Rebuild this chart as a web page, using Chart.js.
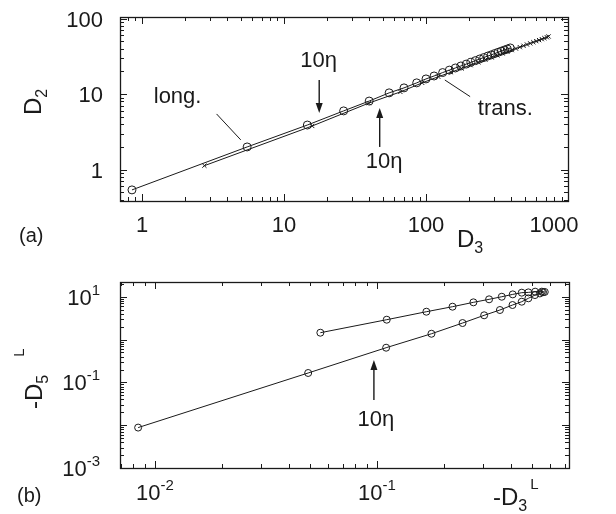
<!DOCTYPE html>
<html>
<head>
<meta charset="utf-8">
<script src="https://cdn.jsdelivr.net/npm/chart.js@4.4.0/dist/chart.umd.min.js"></script>
<style>
  html, body { margin: 0; padding: 0; background: #fff; }
  #wrap { position: relative; width: 616px; height: 514px; }
  .box { position: absolute; left: 0; width: 616px; height: 257px; }
</style>
</head>
<body>
<div id="wrap">
  <div class="box" style="top:0"><canvas id="chartA" width="616" height="257"></canvas></div>
  <div class="box" style="top:257px"><canvas id="chartB" width="616" height="257"></canvas></div>
</div>
<script>
// (a) D2 against D3, longitudinal (circles) and transverse (crosses)
const longD3 = [0.85, 5.5, 14.6, 26.3, 39.8, 55, 70, 86, 100, 114, 131, 146, 161, 176, 192, 207, 223, 239, 255, 272, 288, 305, 322, 339, 357, 374, 392];
const longD2 = [0.54, 2.0, 3.9, 6.0, 8.1, 10.4, 12.1, 14.1, 15.9, 17.4, 19.3, 20.8, 22.2, 23.6, 25.0, 26.4, 27.8, 29.2, 30.5, 31.9, 33.1, 34.5, 35.8, 37.1, 38.4, 39.6, 40.9];
const transD3 = [2.75, 15.8, 39.5, 66, 94, 122, 150, 178, 206, 234, 262, 290, 318, 346, 374, 402, 430, 458, 486, 514, 542, 570, 598, 626, 654, 682, 710, 730];
const transD2 = [1.13, 3.79, 7.6, 10.7, 14.1, 17.0, 19.5, 21.9, 24.2, 26.4, 28.6, 30.6, 32.6, 34.6, 36.4, 38.3, 40.1, 41.9, 43.7, 45.4, 47.0, 48.7, 50.3, 51.9, 53.5, 55.1, 56.6, 58.0];

// (b) -D5L against -D3L
const upperD3 = [0.0556, 0.1107, 0.167, 0.219, 0.272, 0.320, 0.365, 0.409, 0.449, 0.481, 0.516, 0.553, 0.57];
const upperD5 = [1.45, 2.92, 4.49, 5.88, 7.43, 8.74, 10.05, 11.4, 12.5, 12.7, 13.2, 13.2, 13.0];
const lowerD3 = [0.0084, 0.049, 0.110, 0.176, 0.243, 0.304, 0.358, 0.408, 0.449, 0.481, 0.515, 0.542, 0.56];
const lowerD5 = [0.0088, 0.166, 0.647, 1.37, 2.44, 3.70, 4.92, 6.43, 7.69, 9.23, 11.0, 12.0, 12.8];

// tick labels
const aXTicks = [1, 10, 100, 1000];
const aYTicks = [1, 10, 100];
const bXExp = [-2, -1];
const bYExp = [1, -1, -3];

const FONT = '"Liberation Sans", Arial, Helvetica, sans-serif';
const INK = '#1a1a1a';

function rich(ctx, parts, x, y, align) {
  let w = 0;
  for (const p of parts) {
    ctx.font = p[1] + 'px ' + FONT;
    w += ctx.measureText(p[0]).width + (p[3] || 0);
  }
  let cx = align === 'center' ? x - w / 2 : align === 'right' ? x - w : x;
  for (const p of parts) {
    ctx.font = p[1] + 'px ' + FONT;
    ctx.fillText(p[0], cx, y + (p[2] || 0));
    cx += ctx.measureText(p[0]).width + (p[3] || 0);
  }
}

function seg(ctx, x1, y1, x2, y2) {
  ctx.beginPath(); ctx.moveTo(x1, y1); ctx.lineTo(x2, y2); ctx.stroke();
}

function logMarks(ctx, scale, horiz, a) {
  const lo = Math.floor(Math.log10(scale.min)), hi = Math.ceil(Math.log10(scale.max));
  for (let d = lo; d <= hi; d++) {
    for (let m = 1; m < 10; m++) {
      const v = m * Math.pow(10, d);
      if (v < scale.min * 0.999 || v > scale.max * 1.001) continue;
      const p = Math.round(scale.getPixelForValue(v)) + 0.5;
      const len = m === 1 ? 7 : 4;
      if (horiz) { seg(ctx, p, a.bottom, p, a.bottom - len); seg(ctx, p, a.top, p, a.top + len); }
      else { seg(ctx, a.left, p, a.left + len, p); seg(ctx, a.right, p, a.right - len, p); }
    }
  }
}

function arrow(ctx, x, y1, y2) {
  const dir = Math.sign(y2 - y1);
  seg(ctx, x, y1, x, y2 - dir * 8);
  ctx.beginPath();
  ctx.moveTo(x, y2); ctx.lineTo(x - 3.5, y2 - dir * 10); ctx.lineTo(x + 3.5, y2 - dir * 10);
  ctx.closePath(); ctx.fill();
}

function makeDeco(cfg) {
  return {
    id: 'deco',
    afterDraw(chart) {
      const ctx = chart.ctx, a = chart.chartArea, sx = chart.scales.x, sy = chart.scales.y;
      ctx.save();
      ctx.strokeStyle = INK; ctx.fillStyle = INK; ctx.lineWidth = 1.3;
      ctx.strokeRect(a.left + 0.5, a.top + 0.5, a.right - a.left, a.bottom - a.top);
      ctx.lineWidth = 1;
      logMarks(ctx, sx, true, a);
      logMarks(ctx, sy, false, a);
      ctx.textBaseline = 'alphabetic';
      cfg.xTicks.forEach(t => rich(ctx, t.parts, sx.getPixelForValue(t.v) + (t.dx || 0), cfg.xTickY, 'center'));
      cfg.yTicks.forEach(t => rich(ctx, t.parts, cfg.yTickX, sy.getPixelForValue(t.v) + 8, 'right'));
      ctx.lineWidth = 1;
      cfg.leaders.forEach(l => seg(ctx, sx.getPixelForValue(l[0]), sy.getPixelForValue(l[1]), sx.getPixelForValue(l[2]), sy.getPixelForValue(l[3])));
      ctx.lineWidth = 1.4;
      cfg.arrows.forEach(r => arrow(ctx, sx.getPixelForValue(r[0]), sy.getPixelForValue(r[1]), sy.getPixelForValue(r[2])));
      cfg.notes.forEach(n => rich(ctx, n.parts, sx.getPixelForValue(n.x), sy.getPixelForValue(n.y), n.align));
      cfg.titles.forEach(t => {
        ctx.save();
        ctx.translate(t.x, t.y);
        if (t.rot) ctx.rotate(-Math.PI / 2);
        rich(ctx, t.parts, 0, 0, 'left');
        ctx.restore();
      });
      ctx.restore();
    }
  };
}

function series(xs, ys, style, r) {
  return {
    data: xs.map((x, i) => ({ x: x, y: ys[i] })),
    showLine: true,
    borderColor: INK,
    borderWidth: 1,
    pointStyle: style,
    pointRadius: r,
    pointBorderColor: INK,
    pointBorderWidth: 1,
    pointBackgroundColor: 'rgba(0,0,0,0)',
    tension: 0
  };
}

function makeChart(id, datasets, xr, yr, area, deco) {
  return new Chart(document.getElementById(id), {
    type: 'scatter',
    data: { datasets: datasets },
    options: {
      responsive: false,
      animation: false,
      layout: { padding: { left: 0, top: area.top, right: 616 - area.right, bottom: 0 } },
      plugins: { legend: { display: false }, tooltip: { enabled: false } },
      scales: {
        x: {
          type: 'logarithmic', min: xr[0], max: xr[1],
          grid: { display: false, drawTicks: false }, border: { display: false },
          ticks: { display: false },
          afterFit: s => { s.height = 257 - area.bottom; }
        },
        y: {
          type: 'logarithmic', min: yr[0], max: yr[1],
          grid: { display: false, drawTicks: false }, border: { display: false },
          ticks: { display: false },
          afterFit: s => { s.width = area.left; }
        }
      }
    },
    plugins: [makeDeco(deco)]
  });
}

const eta = '10\u03b7';

makeChart('chartA',
  [series(longD3, longD2, 'circle', 4), series(transD3, transD2, 'crossRot', 3)],
  [0.72, 1000], [0.385, 105],
  { left: 120, right: 568, top: 17, bottom: 201 },
  {
    xTicks: aXTicks.map(v => ({ v: v, dx: v === 1000 ? -14 : 0, parts: [[String(v), 22]] })),
    yTicks: aYTicks.map(v => ({ v: v, parts: [[String(v), 22]] })),
    xTickY: 232, yTickX: 103,
    leaders: [[3.35, 5.47, 4.96, 2.48], [204.6, 9.27, 135.7, 15.4]],
    arrows: [[17.7, 15.4, 5.64], [47.2, 2.0, 6.56]],
    notes: [
      { x: 17.5, y: 22.9, parts: [[eta, 22]], align: 'center' },
      { x: 50.7, y: 1.05, parts: [[eta, 22]], align: 'center' },
      { x: 1.21, y: 7.64, parts: [['long.', 22]], align: 'left' },
      { x: 231.7, y: 5.30, parts: [['trans.', 22]], align: 'left' }
    ],
    titles: [
      { x: 41, y: 115, rot: true, parts: [['D', 24], ['2', 16, 6]] },
      { x: 457, y: 247, parts: [['D', 24], ['3', 16, 6]] },
      { x: 19, y: 242, parts: [['(a)', 20]] }
    ]
  });

makeChart('chartB',
  [series(upperD3, upperD5, 'circle', 3.5), series(lowerD3, lowerD5, 'circle', 3.5)],
  [0.00696, 0.733], [0.001, 22.2],
  { left: 120, right: 569, top: 25, bottom: 211 },
  {
    xTicks: bXExp.map(e => ({ v: Math.pow(10, e), parts: [['10', 22], [String(e), 15, -10]] })),
    yTicks: bYExp.map(e => ({ v: Math.pow(10, e), parts: [['10', 22], [String(e), 15, -10]] })),
    xTickY: 243, yTickX: 100,
    leaders: [],
    arrows: [[0.0969, 0.0388, 0.334]],
    notes: [{ x: 0.099, y: 0.00957, parts: [[eta, 22]], align: 'center' }],
    titles: [
      { x: 42, y: 152, rot: true, parts: [['-', 24], ['D', 24], ['5', 16, 6, 18], ['L', 15, -18]] },
      { x: 493, y: 248, parts: [['-', 24], ['D', 24], ['3', 16, 6, 3], ['L', 15, -16]] },
      { x: 17, y: 245, parts: [['(b)', 20]] }
    ]
  });
</script>
</body>
</html>
